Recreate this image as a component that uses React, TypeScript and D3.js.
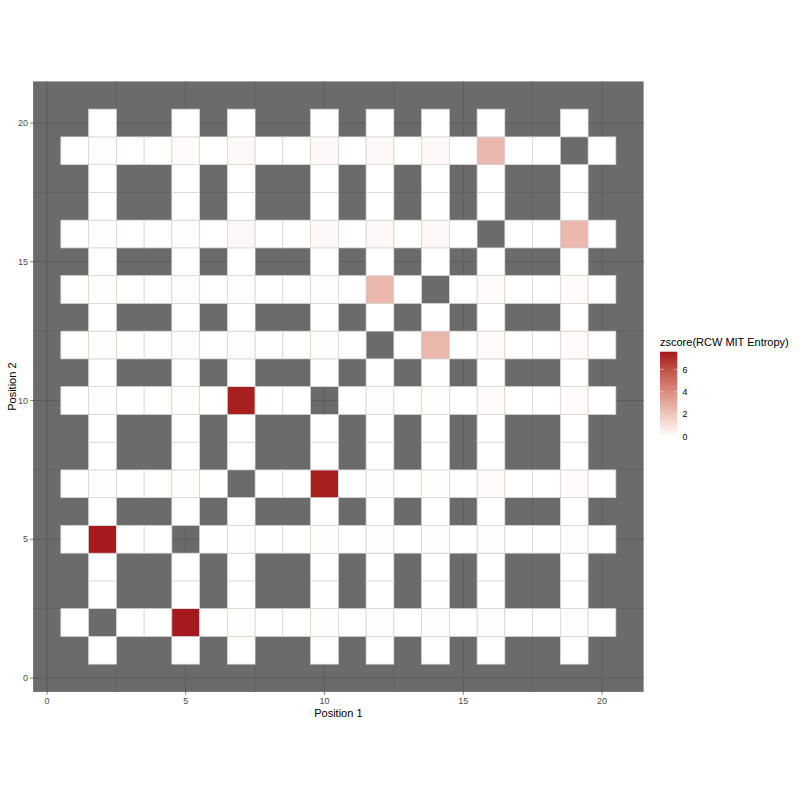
import * as d3 from 'd3';

// positions along the sequence that are paired (full rows / columns of tiles)
const sites = [2, 5, 7, 10, 12, 14, 16, 19];
const allPositions = [1, 2, 3, 4, 5, 6, 7, 8, 9, 10, 11, 12, 13, 14, 15, 16, 17, 18, 19, 20];

// zscore at site x site intersections; row = Position 2 (same order as sites), col = Position 1
const siteZ: (number | null)[][] = [
  /* y=2  */ [null, 7.5, 0.05, 0.05, 0.1, 0.1, 0.1, 0.1],
  /* y=5  */ [7.5, null, 0.05, 0.05, 0.1, 0.1, 0.1, 0.1],
  /* y=7  */ [0.03, 0.05, null, 7.4, 0.1, 0.05, 0.15, 0.15],
  /* y=10 */ [0.03, 0.05, 7.4, null, 0.1, 0.05, 0.15, 0.15],
  /* y=12 */ [0.05, 0.1, 0.1, 0.05, null, 2.5, 0.15, 0.15],
  /* y=14 */ [0.05, 0.1, 0.1, 0.1, 2.5, null, 0.15, 0.15],
  /* y=16 */ [0.1, 0.1, 0.25, 0.2, 0.2, 0.2, null, 2.45],
  /* y=19 */ [0.1, 0.15, 0.25, 0.25, 0.2, 0.25, 2.45, null],
];
// all other tiles in a paired row/column read as white
const otherZ = 0;

const axisTicks = [0, 5, 10, 15, 20];
const minorTicks = [2.5, 7.5, 12.5, 17.5];
const legendTicks = [0, 2, 4, 6];
const zMax = 7.57;

type Tile = { p1: number; p2: number; z: number };

function buildTiles(): Tile[] {
  const out: Tile[] = [];
  for (const p2 of allPositions) {
    for (const p1 of allPositions) {
      if (p1 === p2) continue;
      const i = sites.indexOf(p2);
      const j = sites.indexOf(p1);
      if (i < 0 && j < 0) continue;
      if (i >= 0 && j >= 0) {
        const z = siteZ[i][j];
        if (z == null) continue;
        out.push({ p1, p2, z });
      } else {
        out.push({ p1, p2, z: otherZ });
      }
    }
  }
  return out;
}

export default function App() {
  const W = 800;
  const H = 800;
  const panel = { left: 33.1, right: 643.6, top: 81.4, bottom: 691.9 };

  const x = d3.scaleLinear().domain([-0.5, 21.5]).range([panel.left, panel.right]);
  const y = d3.scaleLinear().domain([-0.5, 21.5]).range([panel.bottom, panel.top]);
  const color = d3.scaleLinear<string>().domain([0, zMax]).range(['#ffffff', '#a5161c']).interpolate(d3.interpolateLab);

  const tiles = buildTiles();
  const cw = x(1) - x(0);
  const ch = y(0) - y(1);

  const bar = { x: 660, w: 17.3, top: 351.7, bottom: 436.7 };
  const ly = d3.scaleLinear().domain([0, zMax]).range([bar.bottom, bar.top]);
  const gradStops = [0, 0.25, 0.5, 0.75, 1];

  const font = '"Liberation Sans", Arial, Helvetica, sans-serif';
  const gridCol = '#5d5d5d';

  return (
    <svg width={W} height={H} style={{ position: 'absolute', left: 0, top: 0, background: '#fff' }} fontFamily={font}>
      <defs>
        <linearGradient id="zgrad" x1="0" y1="1" x2="0" y2="0">
          {gradStops.map((t) => (
            <stop key={t} offset={t} stopColor={color(t * zMax)} />
          ))}
        </linearGradient>
      </defs>

      {/* panel */}
      <rect x={panel.left} y={panel.top} width={panel.right - panel.left} height={panel.bottom - panel.top} fill="#6b6b6b" />
      {minorTicks.map((t) => (
        <g key={'mn' + t}>
          <line x1={x(t)} x2={x(t)} y1={panel.top} y2={panel.bottom} stroke={gridCol} strokeWidth={0.6} />
          <line x1={panel.left} x2={panel.right} y1={y(t)} y2={y(t)} stroke={gridCol} strokeWidth={0.6} />
        </g>
      ))}
      {axisTicks.map((t) => (
        <g key={'mj' + t}>
          <line x1={x(t)} x2={x(t)} y1={panel.top} y2={panel.bottom} stroke={gridCol} strokeWidth={1} />
          <line x1={panel.left} x2={panel.right} y1={y(t)} y2={y(t)} stroke={gridCol} strokeWidth={1} />
        </g>
      ))}

      {/* tiles */}
      {tiles.map((d) => (
        <rect
          key={d.p1 + '-' + d.p2}
          x={x(d.p1 - 0.5)}
          y={y(d.p2 + 0.5)}
          width={cw}
          height={ch}
          fill={color(d.z)}
          stroke="#d6d6d6"
          strokeWidth={0.7}
        />
      ))}

      {/* axes */}
      {axisTicks.map((t) => (
        <g key={'ax' + t}>
          <line x1={x(t)} x2={x(t)} y1={panel.bottom} y2={panel.bottom + 3} stroke="#333" strokeWidth={0.6} />
          <text x={x(t)} y={704} textAnchor="middle" fontSize={9} fill="#4d4d4d">{t}</text>
          <line x1={panel.left - 3} x2={panel.left} y1={y(t)} y2={y(t)} stroke="#333" strokeWidth={0.6} />
          <text x={28} y={y(t) + 3.2} textAnchor="end" fontSize={9} fill="#4d4d4d">{t}</text>
        </g>
      ))}
      <text x={(panel.left + panel.right) / 2} y={716.5} textAnchor="middle" fontSize={11} fill="#000">Position 1</text>
      <text
        transform={`translate(16,${(panel.top + panel.bottom) / 2}) rotate(-90)`}
        textAnchor="middle"
        fontSize={11}
        fill="#000"
      >
        Position 2
      </text>

      {/* legend */}
      <text x={bar.x} y={345.5} fontSize={11} fill="#000">zscore(RCW MIT Entropy)</text>
      <rect x={bar.x} y={bar.top} width={bar.w} height={bar.bottom - bar.top} fill="url(#zgrad)" />
      {legendTicks.map((t) => (
        <g key={'lg' + t}>
          <line x1={bar.x} x2={bar.x + 3.5} y1={ly(t)} y2={ly(t)} stroke="#fff" strokeOpacity={0.6} strokeWidth={0.8} />
          <line x1={bar.x + bar.w - 3.5} x2={bar.x + bar.w} y1={ly(t)} y2={ly(t)} stroke="#fff" strokeOpacity={0.6} strokeWidth={0.8} />
          <text x={682.5} y={ly(t) + 3.2} fontSize={8.8} fill="#000">{t}</text>
        </g>
      ))}
    </svg>
  );
}
